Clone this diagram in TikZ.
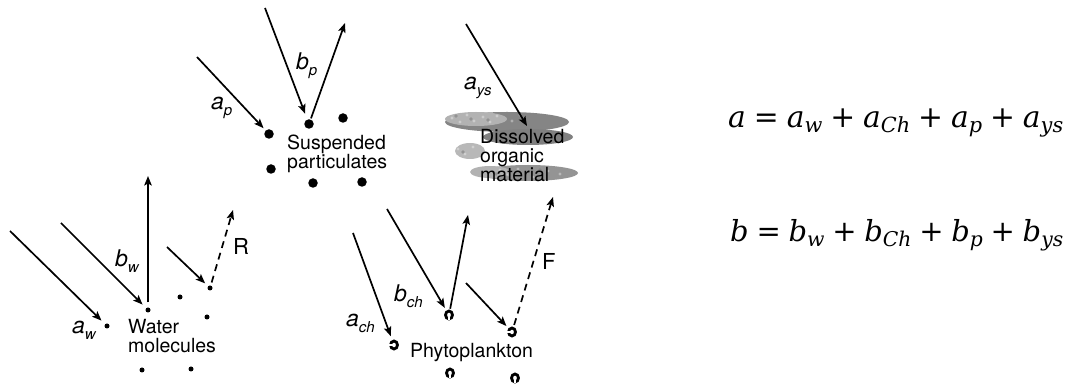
\documentclass[tikz,border=0pt]{standalone}
\usepackage{fontspec}
\setsansfont{TeX Gyre Heros}
\newfontfamily\eqfont{DejaVu Serif}
\usetikzlibrary{arrows.meta,shapes.geometric}

% optical coefficient label: italic letter with an italic subscript
\newcommand\coef[2]{{\fontsize{23}{23}\selectfont\itshape #1}\raisebox{-5.5pt}{\fontsize{15}{15}\selectfont\itshape #2}}
% term of the budget equations: italic symbol with italic subscript
\newcommand\eqterm[2]{{\itshape #1}\raisebox{-5pt}{\fontsize{21}{21}\selectfont\itshape #2}}
\newcommand\eqop[1]{\hspace{8pt}#1\hspace{8pt}}

\tikzset{
  ray/.style={line width=1.7pt, -{Stealth[length=9.5pt,width=7.5pt,inset=2pt]}},
  glow/.style={ray, dash pattern=on 7pt off 5pt},
  water/.style={circle, fill=black, minimum size=5pt, inner sep=0pt},
  grain/.style={circle, fill=black, minimum size=9.5pt, inner sep=0pt},
  cell/.style={ellipse, draw, line width=2.8pt, minimum width=7pt, minimum height=8pt, inner sep=0pt},
  caption/.style={font=\sffamily\fontsize{19.5}{19}\selectfont, align=left, inner sep=0pt, anchor=north west},
  sym/.style={font=\sffamily, inner sep=0pt, anchor=base west},
  letterlbl/.style={font=\sffamily\fontsize{22}{22}\selectfont, inner sep=0pt, anchor=base west},
  eqn/.style={font=\eqfont\fontsize{30}{30}\selectfont, inner sep=0pt, anchor=base west},
}

\begin{document}
\begin{tikzpicture}[x=1pt,y=-1pt]
\useasboundingbox (0,0) rectangle (1072,387);

% ---------- dissolved organic material (grey cloud) ----------
\fill[black!48] (507,122) ellipse [x radius=62, y radius=10];
\fill[black!30] (476,119) ellipse [x radius=31, y radius=7];
\fill[black!50] (528,137) ellipse [x radius=45, y radius=8];
\fill[black!28] (470,151) ellipse [x radius=15, y radius=8];
\fill[black!42] (528,173) ellipse [x radius=50, y radius=8];
\fill[black!30] (490,172) ellipse [x radius=20, y radius=6];
\foreach \px/\py in {452/118,460/122,467/115,474/121,483/117,490/122,497/116,458/149,465/154,
                     473/147,500/170,508/175,518/169,533/177,548/171,560/174,512/121,520/115}
  \fill[white,opacity=0.35] (\px,\py) circle (1.6);
\foreach \px/\py in {456/116,471/119,488/120,463/152,496/174,540/170}
  \fill[black!55,opacity=0.5] (\px,\py) circle (1.8);
\node[caption] (domtext) at (480,129) {Dissolved\\organic\\material};
\coordinate (dom) at (527,126);

% ---------- water molecules ----------
\node[water] (w1) at (107,326) {};
\node[water] (w2) at (148,310) {};
\node[water] (w3) at (210,288) {};
\node[water] (w4) at (180,297) {};
\node[water] (w5) at (207,317) {};
\node[water] (w6) at (142,370) {};
\node[water] (w7) at (191,369) {};
\node[caption] (wtext) at (128,319) {Water\\molecules};

\coordinate (aw0) at (10,231);
\coordinate (bw0) at (61,223);
\coordinate (bw1) at (148,176);
\coordinate (r0)  at (167,247);
\coordinate (r1)  at (233,210);
\draw[ray, shorten >=5pt] (aw0) -- (w1);
\draw[ray, shorten >=5pt] (bw0) -- (w2);
\draw[ray, shorten <=5pt] (w2) -- (bw1);
\draw[ray, shorten >=4pt] (r0) -- (w3);
\draw[glow, shorten <=3pt] (w3) -- (r1);

\node[sym] (law) at (72,334) {\coef{a}{w}};
\node[sym] (lbw) at (115,267) {\coef{b}{w}};
\node[letterlbl] (lr) at (233,255) {R};

% ---------- suspended particulates ----------
\node[grain] (p1) at (269,134) {};
\node[grain] (p2) at (309,124) {};
\node[grain] (p3) at (343,118) {};
\node[grain] (p4) at (271,169) {};
\node[grain] (p5) at (313,183) {};
\node[grain] (p6) at (362,182) {};
\node[caption] (ptext) at (287,135) {Suspended\\particulates};

\coordinate (ap0) at (197,57);
\coordinate (bp0) at (265,8);
\coordinate (bp1) at (345,23);
\draw[ray, shorten >=3pt] (ap0) -- (p1);
\draw[ray, shorten >=6pt] (bp0) -- (p2);
\draw[ray, shorten <=1pt] (p2) -- (bp1);

\node[sym] (lap) at (211,110) {\coef{a}{p}};
\node[sym] (lbp) at (296,70) {\coef{b}{p}};

% ---------- dissolved organic material ray ----------
\coordinate (ays0) at (466,24);
\draw[ray] (ays0) -- (dom);
\node[sym] (lays) at (464,90) {\coef{a}{ys}};

% ---------- phytoplankton ----------
\node[cell] (c1) at (394,345) {};
\node[cell] (c2) at (449,315) {};
\node[cell] (c3) at (512,332) {};
\node[cell] (c4) at (450,373) {};
\node[cell] (c5) at (515,378) {};
\foreach \c in {c2,c4,c5}
  \fill[white] ([xshift=-0.9pt]\c.south) rectangle ([xshift=0.9pt,yshift=3.8pt]\c.south);
\foreach \c in {c1,c3}
  \fill[white] ([yshift=-0.9pt]\c.west) rectangle ([yshift=0.9pt,xshift=3.4pt]\c.west);
\node[caption] (ftext) at (410,343) {Phytoplankton};

\coordinate (ach0) at (353,233);
\coordinate (bch0) at (387,209);
\coordinate (bch1) at (468,215);
\coordinate (f0)   at (466,283);
\coordinate (f1)   at (553,197);
\draw[ray, shorten >=4pt] (ach0) -- (c1);
\draw[ray, shorten >=3pt] (bch0) -- (c2);
\draw[ray, shorten <=1pt] (c2) -- (bch1);
\draw[ray, shorten >=3pt] (f0) -- (c3);
\draw[glow, shorten <=2pt] (c3) -- (f1);

\node[sym] (lach) at (346,327) {\coef{a}{ch}};
\node[sym] (lbch) at (394,302) {\coef{b}{ch}};
\node[letterlbl] (lf) at (542,270) {F};

% ---------- totals ----------
\node[eqn] (eqa) at (728,128) {\resizebox{335pt}{!}{\eqterm{a}{}\eqop{=}\eqterm{a}{w}\eqop{+}\eqterm{a}{Ch}\eqop{+}\eqterm{a}{p}\eqop{+}\eqterm{a}{ys}}};
\node[eqn] (eqb) at (730,242) {\resizebox{333pt}{!}{\eqterm{b}{}\eqop{=}\eqterm{b}{w}\eqop{+}\eqterm{b}{Ch}\eqop{+}\eqterm{b}{p}\eqop{+}\eqterm{b}{ys}}};
\end{tikzpicture}
\end{document}
